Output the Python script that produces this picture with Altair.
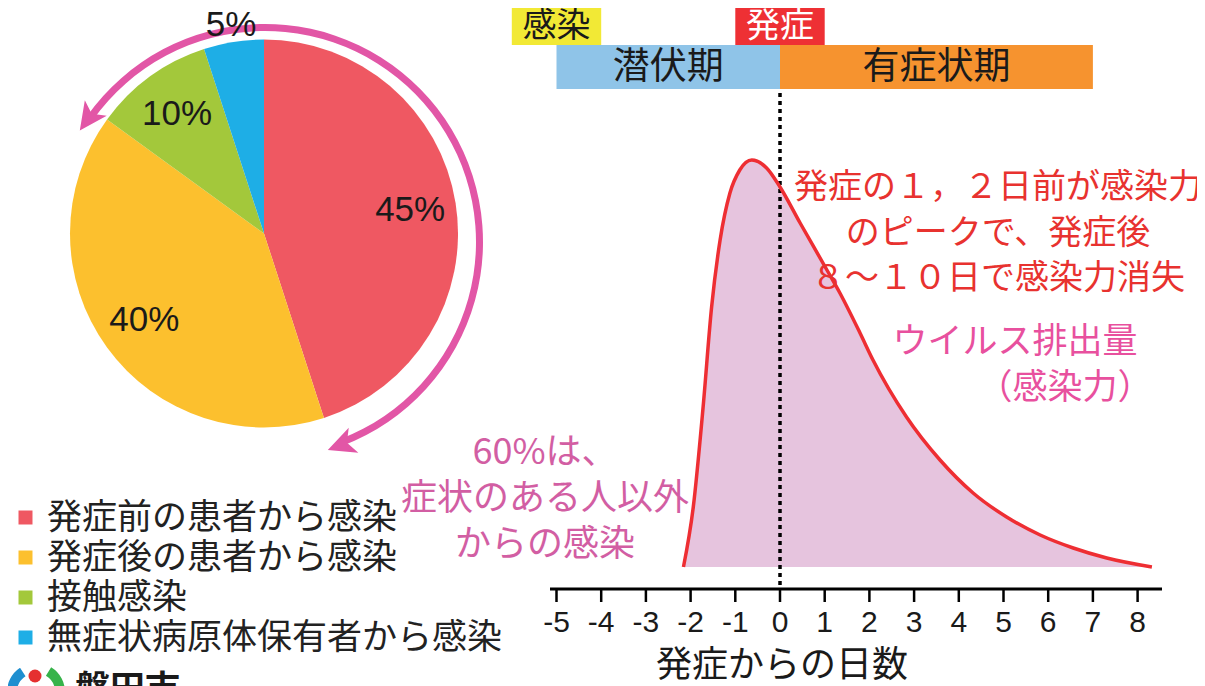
import altair as alt
import pandas as pd

# ---------------- data ----------------
pie_cats = ["発症前の患者から感染", "発症後の患者から感染", "接触感染", "無症状病原体保有者から感染"]
pie_pcts = [45, 40, 10, 5]
pie_colors = ["#ef5862", "#fcc02e", "#a3c83b", "#1eaee6"]

curve_days = [-2.16, -1.94, -1.72, -1.53, -1.34, -1.12, -0.90, -0.63, -0.30, 0.0,
              0.45, 1.05, 1.34, 1.79, 2.08, 2.83, 3.58, 4.32, 5.07, 5.82, 6.56, 7.31, 8.32]
curve_vals = [0, 60, 160, 260, 327, 374, 397, 407, 399, 380,
              344, 297, 274, 234, 207, 150, 107, 74, 50, 32, 19, 9, 0]

tick_days = list(range(-5, 9))

phase_names = ["潜伏期", "有症状期"]
phase_start = [-5, 0]
phase_end = [0, 7]
phase_colors = ["#8fc4e8", "#f6932f"]

event_names = ["感染", "発症"]
event_days = [-5, 0]
event_colors = ["#f2e935", "#ee3034"]
event_text_colors = ["#1a1a1a", "#ffffff"]

# ---------------- layout helpers ----------------
W, H = 1189, 678
M = 8


def vx(X):
    return X - M


def vy(Y):
    return Y - M


JP = "Noto Sans CJK JP"
SANS = "Liberation Sans, Arial, sans-serif"
NARROW = "Liberation Sans Narrow, Arial Narrow, Liberation Sans, sans-serif"
PINK = "#e256a6"

PX_PER_DAY = 44.7
DAY0_X = 780
BASE_Y = 567
x_scale = alt.Scale(domain=[(0 - vx(DAY0_X)) / PX_PER_DAY, (W - vx(DAY0_X)) / PX_PER_DAY],
                    nice=False, zero=False)
y_scale = alt.Scale(domain=[vy(BASE_Y) - H, vy(BASE_Y)], nice=False, zero=False)

pie_df = pd.DataFrame({"cat": pie_cats, "pct": pie_pcts, "idx": list(range(len(pie_cats)))})
curve_df = pd.DataFrame({"day": curve_days, "v": curve_vals})
tick_df = pd.DataFrame({"day": tick_days, "label": [str(d) for d in tick_days]})
phase_df = pd.DataFrame({"name": phase_names, "start": phase_start, "end": phase_end})
event_df = pd.DataFrame({"name": event_names, "day": event_days})
one = pd.DataFrame({"k": [0]})

# ---------------- pie ----------------
PCX, PCY = 264, 233.5
pie_base = alt.Chart(pie_df).encode(
    theta=alt.Theta("pct:Q", stack=True),
    order=alt.Order("idx:Q"),
    x=alt.value(vx(PCX)),
    y=alt.value(vy(PCY)),
)
pie = pie_base.mark_arc(outerRadius=194).encode(
    color=alt.Color(
        "cat:N",
        sort=pie_cats,
        scale=alt.Scale(domain=pie_cats, range=pie_colors),
        legend=alt.Legend(
            orient="none", legendX=0, legendY=vy(500), title=None,
            symbolType="square", symbolSize=196, symbolStrokeWidth=0,
            labelFont=JP, labelFontSize=35, labelColor="#222222", labelLimit=800,
            rowPadding=4, labelOffset=4, padding=0,
        ),
    )
)
pie_lab_big = pie_base.transform_calculate(
    lab="datum.pct >= 10 ? datum.pct + '%' : ''"
).mark_text(radius=148, font=SANS, fontSize=35, color="#1a1a1a").encode(text="lab:N")
pie_lab_small = pie_base.transform_calculate(
    lab="datum.pct < 10 ? datum.pct + '%' : ''"
).mark_text(radius=211, font=SANS, fontSize=35, color="#1a1a1a").encode(text="lab:N")

# ring arrow around pie
RCX, RCY = 265, 242
ring = alt.Chart(one).mark_arc(
    innerRadius=211, outerRadius=218, theta=5.33, theta2=9.058, color=PINK
).encode(x=alt.value(vx(RCX)), y=alt.value(vy(RCY)))
ARROW = "M0,-1L0.95,0.95L0,0.45L-0.95,0.95Z"
head1 = alt.Chart(one).mark_point(
    shape=ARROW, filled=True, size=800, color=PINK, opacity=1, angle=215.4
).encode(x=alt.value(vx(88)), y=alt.value(vy(119)))
head2 = alt.Chart(one).mark_point(
    shape=ARROW, filled=True, size=800, color=PINK, opacity=1, angle=249
).encode(x=alt.value(vx(341)), y=alt.value(vy(445)))

# ---------------- curve ----------------
xenc = alt.X("day:Q", scale=x_scale, axis=None)
yenc = alt.Y("v:Q", scale=y_scale, axis=None)
area = alt.Chart(curve_df).mark_area(color="#e6c4de", interpolate="monotone").encode(x=xenc, y=yenc)
line = alt.Chart(curve_df).mark_line(color="#ee2e33", strokeWidth=3.5, interpolate="monotone").encode(x=xenc, y=yenc)

# ---------------- phase bars and events ----------------
phase_bars = alt.Chart(phase_df).mark_rect().encode(
    x=alt.X("start:Q", scale=x_scale, axis=None),
    x2="end:Q",
    y=alt.value(vy(45)),
    y2=alt.value(vy(89)),
    color=alt.Color("name:N", scale=alt.Scale(domain=phase_names, range=phase_colors), legend=None),
)
phase_text = alt.Chart(phase_df).transform_calculate(mid="(datum.start + datum.end) / 2").mark_text(
    font=JP, fontSize=37, color="#1a1a1a", baseline="middle"
).encode(x=alt.X("mid:Q", scale=x_scale, axis=None), y=alt.value(vy(68)), text="name:N")

event_boxes = alt.Chart(event_df).transform_calculate(
    x0="datum.day - 1", x1="datum.day + 1"
).mark_rect().encode(
    x=alt.X("x0:Q", scale=x_scale, axis=None),
    x2="x1:Q",
    y=alt.value(0),
    y2=alt.value(vy(45)),
    color=alt.Color("name:N", scale=alt.Scale(domain=event_names, range=event_colors), legend=None),
)
event_text = alt.Chart(event_df).mark_text(font=JP, fontSize=34, baseline="middle").encode(
    x=alt.X("day:Q", scale=x_scale, axis=None),
    y=alt.value(vy(27)),
    text="name:N",
    color=alt.Color("name:N", scale=alt.Scale(domain=event_names, range=event_text_colors), legend=None),
)

onset_line = alt.Chart(event_df).transform_filter(alt.datum.name == "発症").mark_rule(
    color="#000000", strokeWidth=3.5, strokeDash=[4, 4]
).encode(x=alt.X("day:Q", scale=x_scale, axis=None), y=alt.value(vy(45)), y2=alt.value(vy(589)))

# ---------------- axis ----------------
axis_line = alt.Chart(one).mark_rule(color="#000000", strokeWidth=3).encode(
    x=alt.value(vx(550)), x2=alt.value(vx(1162)), y=alt.value(vy(589))
)
ticks = alt.Chart(tick_df).mark_rule(color="#000000", strokeWidth=2.5).encode(
    x=alt.X("day:Q", scale=x_scale, axis=None), y=alt.value(vy(589)), y2=alt.value(vy(602))
)
tick_labels = alt.Chart(tick_df).mark_text(font=NARROW, fontSize=30, color="#1a1a1a", baseline="middle").encode(
    x=alt.X("day:Q", scale=x_scale, axis=None), y=alt.value(vy(623)), text="label:N"
)
axis_title = alt.Chart(one).mark_text(font=JP, fontSize=36, color="#1a1a1a", baseline="middle",
                                      text="発症からの日数").encode(x=alt.value(vx(782)), y=alt.value(vy(666)))

# ---------------- annotations ----------------
red_note = alt.Chart(one).mark_text(
    font=JP, fontSize=34, color="#e8322f", baseline="middle", align="center", lineHeight=45.5
).encode(
    x=alt.value(vx(998)), y=alt.value(vy(188)),
    text=alt.value(["発症の１，２日前が感染力", "のピークで、発症後", "８〜１０日で感染力消失"]),
)
virus1 = alt.Chart(one).mark_text(font=JP, fontSize=35, color="#e8509e", baseline="middle",
                                  text="ウイルス排出量").encode(x=alt.value(vx(1015)), y=alt.value(vy(342)))
virus2 = alt.Chart(one).mark_text(font=JP, fontSize=35, color="#e8509e", baseline="middle",
                                  text="（感染力）").encode(x=alt.value(vx(1065)), y=alt.value(vy(388)))
sixty = alt.Chart(one).mark_text(
    font=JP, fontSize=36, color="#d25ea3", baseline="middle", align="center", lineHeight=46
).encode(
    x=alt.value(vx(545)), y=alt.value(vy(453)),
    text=alt.value(["60%は、", "症状のある人以外", "からの感染"]),
)

# ---------------- logo (cut off at bottom) ----------------
logo_blue = alt.Chart(one).mark_arc(innerRadius=19, outerRadius=29, theta=3.6, theta2=5.7, color="#1f8fd0").encode(
    x=alt.value(vx(36)), y=alt.value(vy(692)))
logo_green = alt.Chart(one).mark_arc(innerRadius=19, outerRadius=29, theta=0.55, theta2=2.7, color="#37b34a").encode(
    x=alt.value(vx(36)), y=alt.value(vy(692)))
logo_dot = alt.Chart(one).mark_point(shape="circle", filled=True, size=169, color="#e53030", opacity=1).encode(
    x=alt.value(vx(35)), y=alt.value(vy(676)))
logo_text = alt.Chart(one).mark_text(font=JP, fontSize=35, fontWeight="bold", color="#1a1a1a",
                                     baseline="top", align="left", text="磐田市").encode(
    x=alt.value(vx(75)), y=alt.value(vy(673)))

chart = alt.layer(
    area, onset_line, line,
    phase_bars, phase_text, event_boxes, event_text,
    axis_line, ticks, tick_labels, axis_title,
    ring, head1, head2,
    pie, pie_lab_big, pie_lab_small,
    red_note, virus1, virus2, sixty,
    logo_blue, logo_green, logo_dot, logo_text,
).resolve_scale(color="independent").properties(
    width=W, height=H, padding=0, autosize="none", background="#ffffff"
).configure_view(strokeWidth=0)

chart.save("out.html", embed_options={"renderer": "svg", "actions": False})
